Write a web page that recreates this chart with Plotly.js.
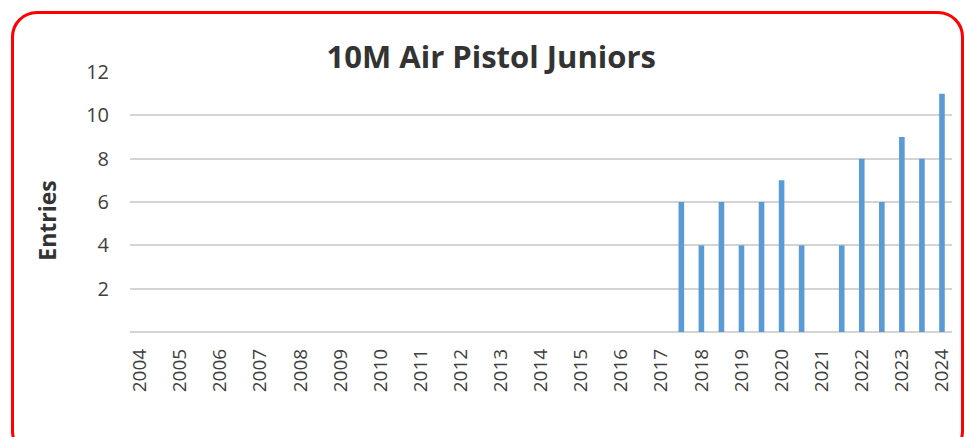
<!DOCTYPE html>
<html>
<head>
<meta charset="utf-8">
<script src="https://cdn.plot.ly/plotly-3.0.1.min.js"></script>
<style>
  html, body { margin: 0; padding: 0; background: #fff; overflow: hidden; }
  #wrap { position: relative; width: 967px; height: 437px; overflow: hidden; }
  #chart { position: absolute; left: 0; top: 0; width: 967px; height: 437px; }
  #frame { position: absolute; left: 11px; top: 11px; width: 947px; height: 440px;
           border: 3px solid #ff0000; border-radius: 26px; pointer-events: none; }
</style>
</head>
<body>
<div id="wrap">
  <div id="chart"></div>
  <div id="frame"></div>
</div>
<script>
// Periods (half-year steps) that have entries, and the entries for each
const periods = [2017.5, 2018, 2018.5, 2019, 2019.5, 2020, 2020.5, 2021.5, 2022, 2022.5, 2023, 2023.5, 2024];
const entries = [6, 4, 6, 4, 6, 7, 4, 4, 8, 6, 9, 8, 11];
// Year tick labels
const yearTicks = [2004, 2005, 2006, 2007, 2008, 2009, 2010, 2011, 2012, 2013, 2014,
                   2015, 2016, 2017, 2018, 2019, 2020, 2021, 2022, 2023, 2024];
const yTicks = [2, 4, 6, 8, 10, 12];

const font = "Open Sans, Noto Sans, Liberation Sans, sans-serif";

Plotly.newPlot('chart', [{
  type: 'bar',
  x: periods,
  y: entries,
  width: 0.14,
  marker: { color: '#5b9bd5' },
  hoverinfo: 'x+y'
}], {
  width: 967, height: 437,
  margin: { l: 130, r: 15, t: 72, b: 105 },
  paper_bgcolor: '#ffffff',
  plot_bgcolor: '#ffffff',
  showlegend: false,
  title: {
    text: '<b>10M Air Pistol Juniors</b>',
    font: { family: font, size: 31, color: '#333333' },
    x: 0.508, xanchor: 'center', y: 0.87, yanchor: 'middle'
  },
  annotations: [{
    text: '<b>Entries</b>',
    xref: 'paper', yref: 'paper',
    x: -0.101, y: 0.428,
    xanchor: 'center', yanchor: 'middle',
    textangle: -90,
    showarrow: false,
    font: { family: font, size: 23, color: '#333333' }
  }],
  xaxis: {
    range: [2003.75, 2024.25],
    tickvals: yearTicks,
    ticktext: yearTicks.map(String),
    tickangle: -90,
    tickfont: { family: font, size: 19, color: '#404040' },
    showgrid: false,
    zeroline: false,
    showline: false,
    ticks: '',
    ticklen: 0,
    ticklabelstandoff: 12
  },
  yaxis: {
    range: [0, 12],
    tickvals: yTicks,
    tickfont: { family: font, size: 20, color: '#404040' },
    showgrid: true,
    gridcolor: '#d4d4d4',
    gridwidth: 2,
    zeroline: true,
    zerolinecolor: '#d4d4d4',
    zerolinewidth: 2,
    showline: false,
    ticks: '',
    ticklabelstandoff: 20
  }
}, { displayModeBar: false, staticPlot: true });
</script>
</body>
</html>
